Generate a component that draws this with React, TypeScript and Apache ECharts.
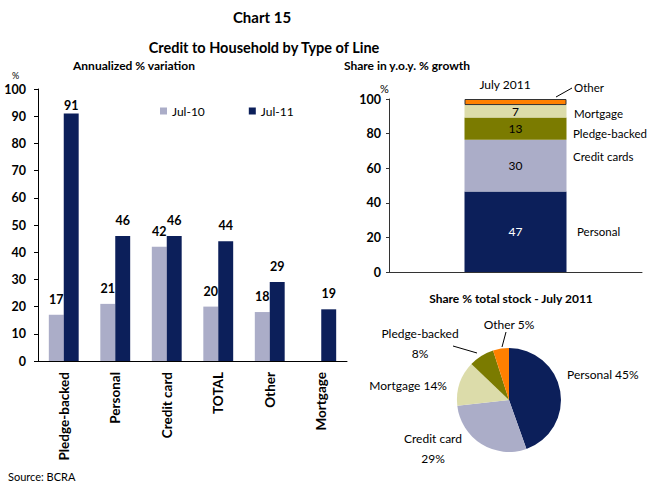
import React, { useEffect, useRef } from "react";
import * as echarts from "echarts";

const categories = ["Pledge-backed", "Personal", "Credit card", "TOTAL", "Other", "Mortgage"];
const jul10 = [17, 21, 42, 20, 18, null];
const jul11 = [91, 46, 46, 44, 29, 19];
const yTicksLeft = { min: 0, max: 100, interval: 10 };

const stackNames = ["Personal", "Credit cards", "Pledge-backed", "Mortgage", "Other"];
const stackValues = [46.5, 30, 12.8, 7.2, 3.5];
const stackLabels = ["47", "30", "13", "7", ""];

const pieNames = ["Personal", "Credit card", "Mortgage", "Pledge-backed", "Other"];
const pieValues = [45, 29, 14, 8, 5];

const NAVY = "#0c1f5a";
const LAV = "#abadc8";
const OLIVE = "#7b7b00";
const PALE = "#dcdcaa";
const ORANGE = "#ff8000";
const stackColors = [NAVY, LAV, OLIVE, PALE, ORANGE];
const pieColors = [NAVY, LAV, PALE, OLIVE, ORANGE];

const FONT = "Lato, sans-serif";

export default function App() {
  const ref = useRef<HTMLDivElement>(null);
  useEffect(() => {
    if (!ref.current) return;
    const chart = echarts.init(ref.current, undefined, { renderer: "svg" });

    const pieLabelPos: Record<string, any> = {
      Personal: { x: 567, y: 374, align: "left" },
      "Credit card": { x: 433, y: 448, align: "center" },
      Mortgage: { x: 447, y: 385, align: "right" },
      "Pledge-backed": { x: 420, y: 343, align: "center" },
      Other: { x: 509, y: 324, align: "center" },
    };
    const pieLabelText: Record<string, string> = {
      Personal: "Personal 45%",
      "Credit card": "Credit card\n29%",
      Mortgage: "Mortgage 14%",
      "Pledge-backed": "Pledge-backed\n8%",
      Other: "Other 5%",
    };

    const txt = (text: string, x: number, y: number, size: number, weight: string, align = "left") => ({
      type: "text",
      x,
      y,
      style: { text, fontSize: size, fontWeight: weight, fontFamily: FONT, fill: "#000", align, verticalAlign: "middle" },
    });
    const ln = (x1: number, y1: number, x2: number, y2: number) => ({
      type: "line",
      shape: { x1, y1, x2, y2 },
      style: { stroke: "#000", lineWidth: 1 },
    });

    chart.setOption({
      animation: false,
      textStyle: { fontFamily: FONT },
      legend: {
        left: 155,
        top: 100,
        itemWidth: 7,
        itemHeight: 7,
        itemGap: 44,
        icon: "rect",
        data: ["Jul-10", "Jul-11"],
        textStyle: { fontSize: 12, fontFamily: FONT, color: "#000" },
      },
      grid: [
        { left: 38, top: 89, width: 309, height: 272 },
        { left: 389, top: 99, width: 253, height: 173 },
      ],
      xAxis: [
        {
          gridIndex: 0,
          type: "category",
          data: categories,
          axisLine: { lineStyle: { color: "#000" } },
          axisTick: { show: false },
          axisLabel: { rotate: 90, fontSize: 13.5, fontWeight: "bold", color: "#000", fontFamily: FONT, margin: 11, interval: 0 },
        },
        {
          gridIndex: 1,
          type: "category",
          data: ["July 2011"],
          axisLine: { lineStyle: { color: "#333" } },
          axisTick: { show: false },
          axisLabel: { show: false },
        },
      ],
      yAxis: [
        {
          gridIndex: 0,
          type: "value",
          ...yTicksLeft,
          splitLine: { show: false },
          axisLine: { show: true, lineStyle: { color: "#000" } },
          axisTick: { show: true, length: 4, lineStyle: { color: "#000" } },
          axisLabel: { fontSize: 12.5, fontWeight: "bold", color: "#000", fontFamily: FONT, margin: 12 },
        },
        {
          gridIndex: 1,
          type: "value",
          min: 0,
          max: 100,
          interval: 20,
          splitLine: { show: false },
          axisLine: { show: true, lineStyle: { color: "#333" } },
          axisTick: { show: true, length: 3, lineStyle: { color: "#333" } },
          axisLabel: { fontSize: 12.5, fontWeight: "bold", color: "#000", fontFamily: FONT, margin: 8 },
        },
      ],
      series: [
        {
          name: "Jul-10",
          type: "bar",
          xAxisIndex: 0,
          yAxisIndex: 0,
          data: jul10,
          itemStyle: { color: LAV },
          barGap: "0%",
          barCategoryGap: "42%",
          label: { show: true, position: "top", distance: 9, fontSize: 12.5, fontWeight: "bold", color: "#000", fontFamily: FONT },
        },
        {
          name: "Jul-11",
          type: "bar",
          xAxisIndex: 0,
          yAxisIndex: 0,
          data: jul11.map((v, i) => (i === 0 ? { value: v, label: { distance: 1 } } : v)),
          itemStyle: { color: NAVY },
          barGap: "0%",
          barCategoryGap: "42%",
          label: { show: true, position: "top", distance: 9, fontSize: 12.5, fontWeight: "bold", color: "#000", fontFamily: FONT },
        },
        ...stackNames.map((n, i) => ({
          name: n,
          type: "bar",
          stack: "share",
          xAxisIndex: 1,
          yAxisIndex: 1,
          barWidth: 102,
          data: [stackValues[i]],
          itemStyle: i === 4 ? { color: ORANGE, borderColor: "#333", borderWidth: 1 } : { color: stackColors[i] },
          label: {
            show: stackLabels[i] !== "",
            position: "inside",
            formatter: () => stackLabels[i],
            fontSize: 12,
            color: i === 0 ? "#fff" : "#000",
            fontFamily: FONT,
          },
        })),
        {
          name: "Share % total stock",
          type: "pie",
          center: [509, 400],
          radius: 52,
          startAngle: 90,
          clockwise: true,
          avoidLabelOverlap: false,
          data: pieNames.map((n, i) => ({ name: n, value: pieValues[i], itemStyle: { color: pieColors[i] } })),
          label: {
            show: true,
            position: "outside",
            formatter: (p: any) => pieLabelText[p.name],
            fontSize: 12,
            lineHeight: 20,
            color: "#000",
            fontFamily: FONT,
          },
          labelLine: { show: false },
          labelLayout: (p: any) => {
            const name = pieNames[p.dataIndex];
            const pos = pieLabelPos[name];
            return { x: pos.x, y: pos.y, align: pos.align, verticalAlign: "middle" };
          },
        },
      ],
      graphic: [
        txt("Chart 15", 262, 17, 15, "bold", "center"),
        txt("Credit to Household by Type of Line", 264, 47, 14.5, "bold", "center"),
        txt("Annualized % variation", 134, 65, 12, "bold", "center"),
        txt("Share in y.o.y. % growth", 407, 65, 12, "bold", "center"),
        txt("%", 12, 75, 9, "normal", "left"),
        txt("%", 380, 88, 11, "normal", "left"),
        txt("July 2011", 505, 84, 12, "normal", "center"),
        txt("Other", 574, 87, 11.5, "normal", "left"),
        txt("Mortgage", 574, 113, 11.5, "normal", "left"),
        txt("Pledge-backed", 573, 133, 11.5, "normal", "left"),
        txt("Credit cards", 573, 156, 11.5, "normal", "left"),
        txt("Personal", 577, 231, 11.5, "normal", "left"),
        ln(556, 97, 572, 88),
        txt("Share % total stock - July 2011", 511, 298, 12, "bold", "center"),
        ln(453, 346, 477, 353),
        ln(506, 332, 502, 347),
        txt("Source: BCRA", 8, 476, 11, "normal", "left"),
      ],
    });
    return () => chart.dispose();
  }, []);
  return <div ref={ref} style={{ position: "fixed", left: 0, top: 0, width: 649, height: 485, background: "#fff" }} />;
}
